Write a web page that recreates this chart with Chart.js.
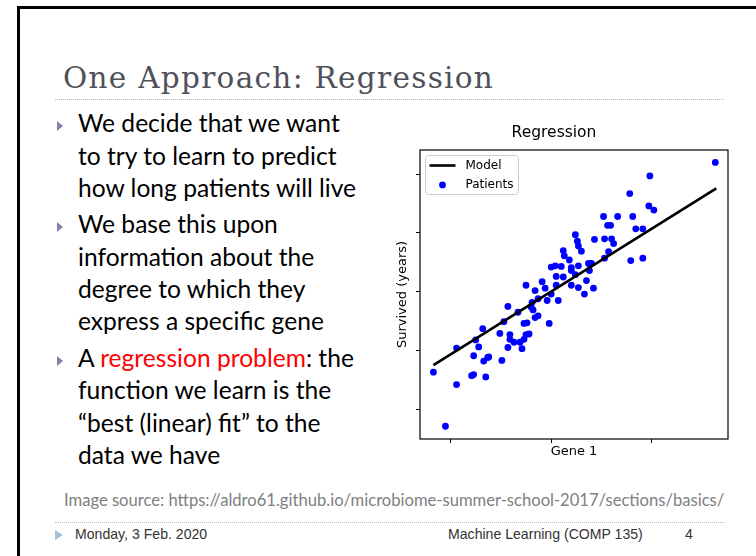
<!DOCTYPE html>
<html>
<head>
<meta charset="utf-8">
<script src="https://cdn.jsdelivr.net/npm/chart.js@4.4.0/dist/chart.umd.min.js"></script>
<style>
  html, body { margin: 0; padding: 0; background: #fff; }
  #slide { position: relative; width: 756px; height: 556px; overflow: hidden; background: #fff; }
  .frameL { position: absolute; left: 17px; top: 6px; width: 3px; height: 560px; background: #000; }
  .frameT { position: absolute; left: 17px; top: 6px; width: 760px; height: 3px; background: #000; }
  .ln { position: absolute; white-space: nowrap; line-height: 1; }
  .bl { display: inline-block; width: 0; height: 0; vertical-align: baseline; }
  .title { left: 63px; font-family: 'DejaVu Serif'; font-size: 29.5px; letter-spacing: 1.3px; color: #50505a; }
  .body { left: 78px; font-family: Lato; font-size: 24.6px; color: #000; }
  .red { color: #ff0000; }
  .src { left: 64px; font-family: Lato; font-size: 16.6px; color: #808080; }
  .foot { font-family: 'Liberation Sans'; font-size: 14.1px; color: #333; }
  .dots { position: absolute; height: 0; border-top: 1px dotted #a3b9d0; }
  .tri { position: absolute; width: 0; height: 0; border-top: 5.5px solid transparent; border-bottom: 5.5px solid transparent; }
  .tri.b { border-left: 6.5px solid #7f84ad; left: 57px; }
  .tri.f { border-left: 8px solid #a6bfd6; left: 55px; }
  #chartBox { position: absolute; left: 360px; top: 110px; width: 380px; height: 370px; }
</style>
</head>
<body>
<div id="slide">
  <div class="frameL"></div>
  <div class="frameT"></div>

  <div class="ln title" data-base="88">One Approach: Regression</div>
  <div class="dots" style="left:55px; top:99px; width:669px;"></div>

  <div class="tri b" style="top:121px;"></div>
  <div class="ln body" data-base="132">We decide that we want</div>
  <div class="ln body" data-base="165">to try to learn to predict</div>
  <div class="ln body" data-base="197">how long patients will live</div>
  <div class="tri b" style="top:222px;"></div>
  <div class="ln body" data-base="233">We base this upon</div>
  <div class="ln body" data-base="266">information about the</div>
  <div class="ln body" data-base="298">degree to which they</div>
  <div class="ln body" data-base="330">express a specific gene</div>
  <div class="tri b" style="top:356px;"></div>
  <div class="ln body" data-base="367">A <span class="red">regression problem</span>: the</div>
  <div class="ln body" data-base="399">function we learn is the</div>
  <div class="ln body" data-base="432">“best (linear) fit” to the</div>
  <div class="ln body" data-base="464">data we have</div>

  <div class="ln src" data-base="506">Image source: https://aldro61.github.io/microbiome-summer-school-2017/sections/basics/</div>
  <div class="dots" style="left:55px; top:522px; width:670px;"></div>
  <div class="tri f" style="top:530px;"></div>
  <div class="ln foot" style="left:75px;" data-base="539">Monday, 3 Feb. 2020</div>
  <div class="ln foot" style="left:448px;" data-base="539">Machine Learning (COMP 135)</div>
  <div class="ln foot" style="left:685px;" data-base="539">4</div>

  <div id="chartBox"><canvas id="regChart"></canvas></div>
</div>

<script>
// place each text line on its baseline
document.querySelectorAll('.ln').forEach(el => {
    const m = document.createElement('span');
    m.className = 'bl';
    el.appendChild(m);
    el.style.top = (parseFloat(el.dataset.base) - m.offsetTop) + 'px';
});

// Regression chart data
const geneExpr = [1.63, 0.98, 0.78, 0.97, 1.02, 0.52, 0.66, 0.81, 0.56, 0.59,
    0.84, 0.91, 0.24, 0.43, 0.53, 0.60, 0.62, 0.26, 0.27, 0.30,
    0.12, 0.13, 0.18, 0.57, 0.53, 0.79, 0.91, 0.00, 0.04, 0.10,
    0.20, 0.27, 0.37, 0.40, 0.38, 0.24, 0.20, 0.12, 0.05, 0.05,
    -0.09, -0.06, -0.25, -0.16, 0.20, 0.27, 0.35, 0.42, 0.33, 0.00,
    0.07, -0.04, -0.13, -0.19, -0.20, -0.18, -0.43, -0.33, -0.16, -0.13,
    -0.47, -0.27, -0.24, -0.02, -0.51, -0.41, -0.41, -0.37, -0.31, -0.27,
    -0.25, -0.22, -0.29, -0.43, -0.68, -0.75, -0.72, -0.94, -0.77, -0.67,
    -0.63, -0.62, -0.49, -1.17, -0.94, -0.79, -0.77, -0.65, -1.05];
const survived = [2.20, 1.97, 1.67, 1.46, 1.39, 1.28, 1.28, 1.28, 1.13, 1.13,
    1.07, 1.07, 0.97, 0.89, 0.90, 0.90, 0.82, 0.86, 0.78, 0.69,
    0.70, 0.61, 0.54, 0.68, 0.57, 0.53, 0.57, 0.42, 0.44, 0.43,
    0.41, 0.44, 0.48, 0.48, 0.36, 0.29, 0.36, 0.25, 0.26, 0.11,
    0.17, 0.06, 0.11, 0.02, 0.11, 0.07, 0.19, 0.06, -0.04, -0.04,
    -0.15, -0.15, -0.12, -0.18, -0.26, -0.31, -0.25, -0.35, -0.44, -0.41,
    -0.51, -0.54, -0.53, -0.54, -0.71, -0.73, -0.81, -0.86, -0.86, -0.81,
    -0.73, -0.72, -0.97, -0.95, -0.63, -0.82, -0.94, -0.96, -1.09, -1.18,
    -1.12, -1.11, -1.17, -1.37, -1.58, -1.43, -1.41, -1.45, -2.29];
const modelX = [-1.17, 1.64];
const modelY = [-1.25, 1.76];
const xTicks = [-1, 0, 1];
const yTicks = [-2, -1, 0, 1, 2];

// matplotlib style frame + legend box inside the axes
const axesFrame = {
    id: 'axesFrame',
    afterDraw(chart) {
        const { ctx, chartArea: a } = chart;
        ctx.save();
        ctx.strokeStyle = '#000';
        ctx.lineWidth = 1.2;
        ctx.strokeRect(a.left, a.top, a.right - a.left, a.bottom - a.top);

        const x = a.left + 5.5, y = a.top + 5.5, w = 93, h = 39;
        ctx.beginPath();
        ctx.roundRect(x, y, w, h, 3);
        ctx.fillStyle = 'rgba(255,255,255,0.8)';
        ctx.fill();
        ctx.strokeStyle = '#cccccc';
        ctx.lineWidth = 1;
        ctx.stroke();

        ctx.font = '12px "DejaVu Sans"';
        ctx.textBaseline = 'middle';
        chart.data.datasets.forEach((ds, i) => {
            const cy = y + 10 + i * 19.4;
            if (ds.showLine) {
                ctx.beginPath();
                ctx.moveTo(x + 4, cy);
                ctx.lineTo(x + 30, cy);
                ctx.strokeStyle = ds.borderColor;
                ctx.lineWidth = ds.borderWidth;
                ctx.stroke();
            } else {
                ctx.beginPath();
                ctx.arc(x + 17, cy, ds.pointRadius, 0, Math.PI * 2);
                ctx.fillStyle = ds.backgroundColor;
                ctx.fill();
            }
            ctx.fillStyle = '#000';
            ctx.fillText(ds.label, x + 40, cy);
        });
        ctx.restore();
    }
};

const ctx = document.getElementById('regChart').getContext('2d');
new Chart(ctx, {
    type: 'scatter',
    data: {
        datasets: [{
            label: 'Model',
            data: modelX.map((v, i) => ({ x: v, y: modelY[i] })),
            showLine: true,
            borderColor: '#000',
            borderWidth: 2.6,
            pointRadius: 0
        }, {
            label: 'Patients',
            data: geneExpr.map((v, i) => ({ x: v, y: survived[i] })),
            backgroundColor: '#0000ff',
            borderWidth: 0,
            pointRadius: 3.4
        }]
    },
    options: {
        responsive: true,
        maintainAspectRatio: false,
        animation: false,
        layout: { padding: { left: 20, right: 12, top: 0, bottom: 20.4 } },
        plugins: {
            legend: { display: false },
            tooltip: { enabled: false },
            title: {
                display: true,
                text: 'Regression',
                color: '#000',
                font: { family: 'DejaVu Sans', size: 15.5, weight: 'normal' },
                padding: { top: 13.7, bottom: 7.7 }
            }
        },
        scales: {
            x: {
                type: 'linear',
                min: -1.303,
                max: 1.756,
                afterBuildTicks: s => { s.ticks = xTicks.map(v => ({ value: v })); },
                ticks: { display: false },
                grid: { drawOnChartArea: false, drawTicks: true, tickLength: 4, color: '#000' },
                border: { display: false },
                title: {
                    display: true, text: 'Gene 1', color: '#000',
                    font: { family: 'DejaVu Sans', size: 13 },
                    padding: { top: 1, bottom: 0 }
                }
            },
            y: {
                type: 'linear',
                min: -2.507,
                max: 2.412,
                afterBuildTicks: s => { s.ticks = yTicks.map(v => ({ value: v })); },
                ticks: { display: false },
                grid: { drawOnChartArea: false, drawTicks: true, tickLength: 4, color: '#000' },
                border: { display: false },
                title: {
                    display: true, text: 'Survived (years)', color: '#000',
                    font: { family: 'DejaVu Sans', size: 13 },
                    padding: { top: 14.7, bottom: 5.7 }
                }
            }
        }
    },
    plugins: [axesFrame]
});
</script>
</body>
</html>
